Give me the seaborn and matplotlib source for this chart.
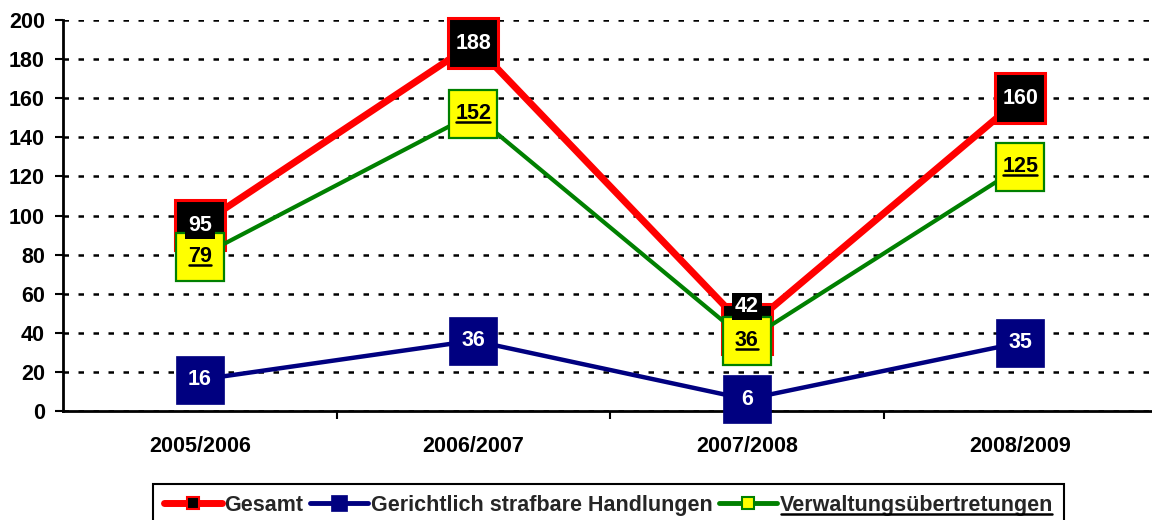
import numpy as np
import pandas as pd
import matplotlib
matplotlib.use("Agg")
import matplotlib.pyplot as plt
from matplotlib.lines import Line2D
from matplotlib.ticker import FixedLocator
import seaborn as sns

# ---- data ----
seasons = ["2005/2006", "2006/2007", "2007/2008", "2008/2009"]
gesamt = [95, 188, 42, 160]
gerichtlich = [16, 36, 6, 35]
verwaltung = [79, 152, 36, 125]
y_ticks = list(range(0, 201, 20))
series_names = ["Gesamt", "Gerichtlich strafbare Handlungen", "Verwaltungsübertretungen"]

RED = "#FF0000"
NAVY = "#000080"
GREEN = "#008000"
YELLOW = "#FFFF00"
FS = 15.5

sns.set_theme(style="white")
plt.rcParams["font.family"] = ["Liberation Sans", "DejaVu Sans"]
plt.rcParams["font.weight"] = "bold"

fig = plt.figure(figsize=(11.52, 5.2), dpi=100)
fig.patch.set_facecolor("white")
ax = fig.add_axes([63 / 1152, 109 / 520, (1157 - 63) / 1152, 391 / 520])

df = pd.DataFrame({"season": seasons, "gesamt": gesamt,
                   "gerichtlich": gerichtlich, "verwaltung": verwaltung})

# series lines with square markers
sns.lineplot(data=df, x="season", y="gesamt", ax=ax, sort=False, color=RED,
             linewidth=5, marker="s", markersize=36, markerfacecolor="black",
             markeredgecolor=RED, markeredgewidth=2.2, clip_on=False, zorder=3)
sns.lineplot(data=df, x="season", y="gerichtlich", ax=ax, sort=False, color=NAVY,
             linewidth=3.2, marker="s", markersize=35, markerfacecolor=NAVY,
             markeredgecolor=NAVY, markeredgewidth=0.5, clip_on=False, zorder=4)
sns.lineplot(data=df, x="season", y="verwaltung", ax=ax, sort=False, color=GREEN,
             linewidth=3, marker="s", markersize=34, markerfacecolor=YELLOW,
             markeredgecolor=GREEN, markeredgewidth=1.6, clip_on=False, zorder=5)

# axes styling
ax.set_xlim(-0.5, 3.5)
ax.set_ylim(0, 200)
ax.set_yticks(y_ticks)
ax.set_xlabel("")
ax.set_ylabel("")
ax.set_facecolor("white")
for side in ("top", "right"):
    ax.spines[side].set_visible(False)
for side in ("left", "bottom"):
    ax.spines[side].set_color("black")
    ax.spines[side].set_linewidth(2)
    ax.spines[side].set_zorder(2)

ax.set_axisbelow(True)
ax.yaxis.grid(True, color="black", linestyle=(0, (2.2, 3.8)), linewidth=1.8)
ax.xaxis.grid(False)

ax.tick_params(axis="y", left=True, length=6, width=1.5, direction="out",
               pad=7, labelsize=FS, colors="black")
ax.tick_params(axis="x", which="major", bottom=True, length=0, pad=18,
               labelsize=FS, colors="black")
ax.xaxis.set_minor_locator(FixedLocator([0.5, 1.5, 2.5, 3.5]))
ax.tick_params(axis="x", which="minor", bottom=True, length=6, width=1.5,
               direction="out", color="black")

# value labels
underlined = []
for i, v in enumerate(gesamt):
    dy = 16 if v == 42 else 0
    ax.annotate(str(v), (i, v), xytext=(0, dy), textcoords="offset points",
                ha="center", va="center", fontsize=FS, fontweight="bold",
                color="white", zorder=11, annotation_clip=False,
                bbox=dict(boxstyle="square,pad=0.14", fc="black", ec="none"))
for i, v in enumerate(gerichtlich):
    ax.annotate(str(v), (i, v), ha="center", va="center", fontsize=FS,
                fontweight="bold", color="white", zorder=11, annotation_clip=False)
for i, v in enumerate(verwaltung):
    t = ax.annotate(str(v), (i, v), ha="center", va="center", fontsize=FS,
                    fontweight="bold", color="black", zorder=12, annotation_clip=False)
    underlined.append(t)

# legend
handles = [
    Line2D([], [], color=RED, lw=5, marker="s", ms=9, mfc="black", mec=RED,
           mew=1.5, solid_capstyle="round"),
    Line2D([], [], color=NAVY, lw=3.5, marker="s", ms=11, mfc=NAVY, mec=NAVY,
           mew=0.5, solid_capstyle="round"),
    Line2D([], [], color=GREEN, lw=3.5, marker="s", ms=9, mfc=YELLOW, mec=GREEN,
           mew=1.5, solid_capstyle="round"),
]
leg = fig.legend(handles, series_names, loc="upper left",
                 bbox_to_anchor=(153 / 1152, 1 - 484 / 520), ncol=3,
                 frameon=True, fancybox=False, edgecolor="black", framealpha=1,
                 prop={"size": FS, "weight": "bold"}, handlelength=2.7,
                 handletextpad=0.12, columnspacing=0.3, borderpad=0.5,
                 borderaxespad=0)
leg.get_frame().set_linewidth(1.5)
underlined.append(leg.get_texts()[2])

# underline selected texts
fig.canvas.draw()
renderer = fig.canvas.get_renderer()
for t in underlined:
    bb = t.get_window_extent(renderer)
    y = bb.y0 + 0.09 * bb.height
    fig.add_artist(Line2D([bb.x0 + 1, bb.x1 - 1], [y, y], transform=None,
                          color="black", lw=1.8, zorder=20))

fig.savefig("out.png", dpi=100, facecolor="white")
